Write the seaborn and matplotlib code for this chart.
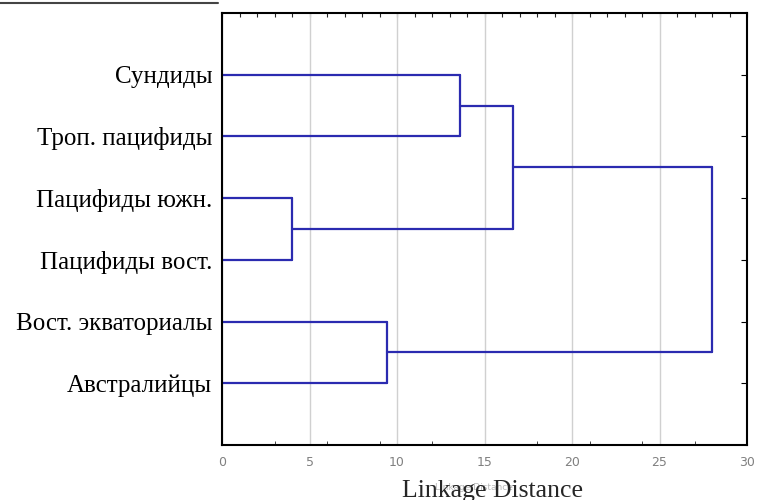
import pandas as pd
import matplotlib.pyplot as plt
import seaborn as sns
from matplotlib.lines import Line2D
from matplotlib.ticker import MultipleLocator

# Листья дендрограммы (сверху вниз)
leaves = ["Сундиды", "Троп. пацифиды", "Пацифиды южн.", "Пацифиды вост.",
          "Вост. экваториалы", "Австралийцы"]
# Объединения: левый кластер, правый кластер, расстояние
link_a = [2, 4, 0, 8, 9]
link_b = [3, 5, 1, 6, 7]
link_h = [4.0, 9.45, 13.6, 16.6, 28.0]

sns.set_style("white")
plt.rcParams["font.family"] = ["Liberation Serif", "DejaVu Serif"]

# Сегменты дендрограммы
pos = {i: i + 1.0 for i in range(len(leaves))}
hgt = {i: 0.0 for i in range(len(leaves))}
rows = []
seg = 0
for k, (a, b, h) in enumerate(zip(link_a, link_b, link_h)):
    for c in (a, b):
        rows.append((seg, hgt[c], pos[c]))
        rows.append((seg, h, pos[c]))
        seg += 1
    rows.append((seg, h, pos[a]))
    rows.append((seg, h, pos[b]))
    seg += 1
    cid = len(leaves) + k
    pos[cid] = (pos[a] + pos[b]) / 2
    hgt[cid] = h
segs = pd.DataFrame(rows, columns=["seg", "x", "y"])

fig = plt.figure(figsize=(7.57, 5), dpi=100)
ax = fig.add_axes([0.2933, 0.11, 0.6935, 0.864])

sns.lineplot(data=segs, x="x", y="y", units="seg", estimator=None, sort=False,
             color="#2b2bb0", linewidth=1.6, ax=ax)

ax.set_xlim(0, 30)
ax.set_ylim(7, 0)
ax.xaxis.set_major_locator(MultipleLocator(5))
ax.xaxis.set_minor_locator(MultipleLocator(3))
ax.grid(axis="x", color="#d0d0d0", linewidth=1)
ax.set_yticks(range(1, len(leaves) + 1))
ax.set_yticklabels(leaves, fontsize=18)
ax.tick_params(axis="y", which="both", direction="in", length=4, pad=7,
               right=True, left=False, colors="black")
ax.tick_params(axis="x", which="major", length=0, pad=8, labelsize=9,
               labelcolor="#808080")
ax.tick_params(axis="x", which="minor", direction="in", length=3, bottom=True)
for lab in ax.get_xticklabels():
    lab.set_family("DejaVu Sans")

# верхние штрихи через единицу
top = ax.secondary_xaxis("top")
top.xaxis.set_major_locator(MultipleLocator(1))
top.tick_params(direction="in", length=3, labeltop=False)
top.spines["top"].set_visible(False)

for s in ax.spines.values():
    s.set_color("black")
    s.set_linewidth(1.5)

ax.set_xlabel("")
ax.set_ylabel("")
fig.text(0.626, 0.024, "Linkage Distance", fontsize=6.5, color="#b8b8b8",
         ha="center", va="center", family="DejaVu Sans")
fig.text(0.651, 0.006, "Linkage Distance", fontsize=18.5, ha="center",
         va="baseline")

fig.add_artist(Line2D([0, 0.288], [0.994, 0.994], color="#444444",
                      linewidth=1.5, transform=fig.transFigure))

plt.savefig("out.png", dpi=100)
